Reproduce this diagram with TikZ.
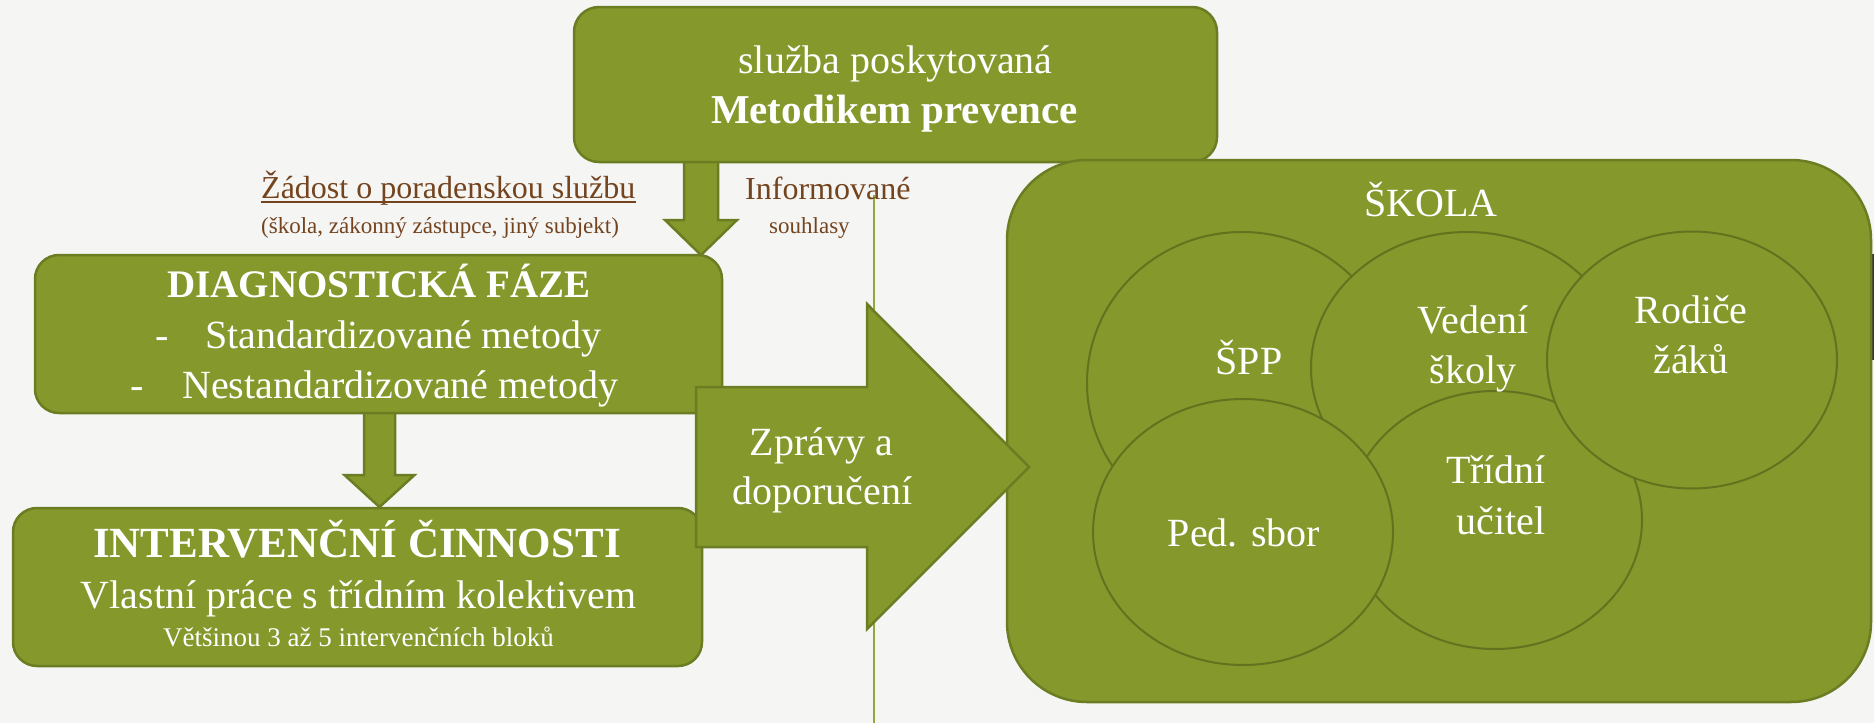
\documentclass[tikz,border=0pt]{standalone}
\usepackage{fontspec}
\setmainfont{Liberation Serif}
\usetikzlibrary{calc,shapes.geometric}
\definecolor{ofill}{HTML}{84982C}
\definecolor{oline}{HTML}{6B7D22}
\definecolor{eline}{HTML}{63721E}
\definecolor{vlinec}{HTML}{93A83C}
\definecolor{brwn}{HTML}{74441F}
\definecolor{bgc}{HTML}{F5F5F4}
\definecolor{stripc}{HTML}{3B3632}
\newcommand{\fsz}[1]{\fontsize{#1}{#1}\selectfont}
\tikzset{
 box/.style={rectangle, draw=oline, fill=ofill, line width=2.5pt, inner sep=0pt},
 barrow/.style={draw=oline, fill=ofill, line width=2.5pt, line join=miter},
 ell/.style={ellipse, draw=eline, fill=ofill, line width=2pt, inner sep=0pt},
 wt/.style={inner sep=0pt, anchor=base, text=white},
 bt/.style={inner sep=0pt, anchor=base west, text=brwn},
}
\begin{document}
\begin{tikzpicture}[x=1pt,y=-1pt]
\useasboundingbox (0,0) rectangle (1874,723);
\fill[bgc] (0,0) rectangle (1874,723);
\fill[stripc] (1871,254) rectangle (1874,360);

% thin vertical line
\coordinate (vtop) at (874,195);
\coordinate (vbot) at (874,723);
\draw[vlinec, line width=1.6pt] (vtop) -- (vbot);

% block arrow 1 (service -> diagnostic)
\coordinate (a1s) at (701,162);
\coordinate (a1t) at (701,255);
\draw[barrow] ($(a1s)+(-17,-4)$) -- ($(a1s)+(-17,58)$) -- ($(a1s)+(-36,58)$) -- (a1t)
  -- ($(a1s)+(36,58)$) -- ($(a1s)+(17,58)$) -- ($(a1s)+(17,-4)$);

% block arrow 2 (diagnostic -> intervention)
\coordinate (a2s) at (379.5,413);
\coordinate (a2t) at (379.5,507);
\draw[barrow] ($(a2s)+(-15.5,-4)$) -- ($(a2s)+(-15.5,62)$) -- ($(a2s)+(-35,62)$) -- (a2t)
  -- ($(a2s)+(35,62)$) -- ($(a2s)+(15.5,62)$) -- ($(a2s)+(15.5,-4)$);

% boxes
\node[box, rounded corners=25pt, minimum width=643pt, minimum height=155pt] (svc) at (895.5,84.5) {};
\node[box, rounded corners=24pt, minimum width=687pt, minimum height=158pt] (diag) at (378.5,334) {};
\node[box, rounded corners=24pt, minimum width=689pt, minimum height=158pt] (interv) at (357.5,587) {};
\node[box, rounded corners=80pt, minimum width=864pt, minimum height=542pt] (skola) at (1439,431) {};

% big arrow
\coordinate (bs) at (696,467);
\coordinate (bt) at (1029,467);
\draw[barrow] ($(bs)+(0,-80)$) -- ($(bs)+(171,-80)$) -- ($(bs)+(171,-163)$) -- (bt)
  -- ($(bs)+(171,162)$) -- ($(bs)+(171,80)$) -- ($(bs)+(0,80)$) -- cycle;

% ellipses
\node[ell, minimum width=310pt, minimum height=302pt] (spp) at (1242,383) {};
\node[ell, minimum width=312pt, minimum height=272pt] (ved) at (1467,368) {};
\node[ell, minimum width=294pt, minimum height=258pt] (tri) at (1495,520) {};
\node[ell, minimum width=300pt, minimum height=266pt] (ped) at (1243,532) {};
\node[ell, minimum width=290pt, minimum height=257pt] (rod) at (1692,360) {};

% texts
\node[wt, font={\fsz{40}}] (svc1) at (895.5,73) {služba poskytovaná};
\node[wt, font={\fsz{41}\bfseries}] (svc2) at (894.5,123) {Metodikem prevence};
\node[bt, font={\fsz{32}}] (zad) at (261,198) {Žádost o poradenskou službu};
\draw[brwn, line width=1.8pt] ($(zad.base west)+(0,4)$) -- ($(zad.base east)+(0,4)$);
\node[bt, font={\fsz{23}}] (zad2) at (261,233) {(škola, zákonný zástupce, jiný subjekt)};
\node[bt, font={\fsz{32}}] (inf) at (745,199) {Informované};
\node[bt, font={\fsz{23}}] (inf2) at (769,233) {souhlasy};

\node[wt, font={\fsz{39}\bfseries}] (d1) at (379,297) {DIAGNOSTICKÁ FÁZE};
\node[wt, anchor=base west, font={\fsz{40}}] (d2) at (155,348) {\makebox[50pt][l]{-}Standardizované metody};
\node[wt, anchor=base west, font={\fsz{40}}] (d3) at (130,398) {\makebox[52pt][l]{-}Nestandardizované metody};

\node[wt, font={\fsz{43}\bfseries}] (i1) at (357,557) {INTERVENČNÍ ČINNOSTI};
\node[wt, font={\fsz{40}}] (i2) at (358.5,608) {Vlastní práce s třídním kolektivem};
\node[wt, font={\fsz{27}}] (i3) at (358.5,646) {Většinou 3 až 5 intervenčních bloků};

\node[wt, font={\fsz{40}}] (z1) at (821.5,455) {Zprávy a};
\node[wt, font={\fsz{40}}] (z2) at (822.5,504) {doporučení};

\node[wt, font={\fsz{40}}] (sk) at (1431,216) {ŠKOLA};
\node[wt, font={\fsz{40}}] (t1) at (1249,374) {ŠPP};
\node[wt, font={\fsz{40}}] (t2) at (1473,333) {Vedení};
\node[wt, font={\fsz{40}}] (t3) at (1473,383) {školy};
\node[wt, font={\fsz{40}}] (t4) at (1691,323) {Rodiče};
\node[wt, font={\fsz{40}}] (t5) at (1691,373) {žáků};
\node[wt, font={\fsz{40}}] (t6) at (1496,483) {Třídní};
\node[wt, font={\fsz{40}}] (t7) at (1501,534) {učitel};
\node[wt, font={\fsz{40}}] (t8) at (1244,546) {Ped. sbor};
\end{tikzpicture}
\end{document}
